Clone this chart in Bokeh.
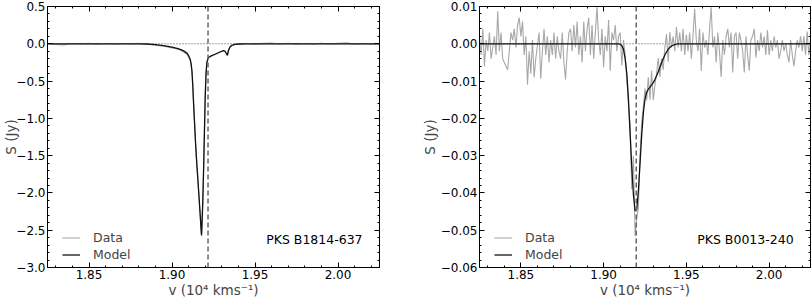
from bokeh.plotting import figure
from bokeh.models import (LinearAxis, SingleIntervalTicker, CustomJSTickFormatter,
                          Span, Label, Legend, LegendItem, Range1d)
from bokeh.layouts import row
from bokeh.embed import file_html
from bokeh.resources import INLINE

# ---------------- data: PKS B1814-637 (left) ----------------
left_v = [1.825, 1.830, 1.835, 1.840, 1.845, 1.850, 1.855, 1.860, 1.865, 1.870, 1.875, 1.880,
          1.885, 1.890, 1.895, 1.900, 1.903, 1.905, 1.907, 1.909, 1.910, 1.911,
          1.9115, 1.912, 1.9125, 1.913, 1.9135, 1.914, 1.9145, 1.915, 1.9155, 1.916, 1.9165, 1.917, 1.9175,
          1.9178, 1.918, 1.9185, 1.919, 1.9195, 1.920, 1.9205, 1.921, 1.9215, 1.922,
          1.923, 1.924, 1.925, 1.926, 1.927, 1.928, 1.929, 1.930, 1.931, 1.932,
          1.9325, 1.9334, 1.934, 1.935, 1.936, 1.937, 1.938, 1.940, 1.945,
          1.950, 1.955, 1.960, 1.965, 1.970, 1.975, 1.980, 1.985, 1.990, 1.995, 2.000, 2.005,
          2.010, 2.015, 2.020, 2.025]
left_model = [0, 0, 0, 0, 0, 0, 0, 0, 0, 0, 0, 0,
              -0.003, -0.01, -0.025, -0.045, -0.06, -0.075, -0.095, -0.125, -0.16, -0.21,
              -0.27, -0.36, -0.55, -0.80, -1.02, -1.25, -1.45, -1.63, -1.79, -1.96, -2.13, -2.30, -2.48,
              -2.57, -2.46, -2.15, -1.72, -1.22, -0.72, -0.40, -0.25, -0.21, -0.185,
              -0.17, -0.16, -0.15, -0.14, -0.13, -0.12, -0.11, -0.10, -0.092, -0.10,
              -0.12, -0.155, -0.09, -0.04, -0.022, -0.013, -0.008, -0.003, 0,
              0, 0, 0, 0, 0, 0, 0, 0, 0, 0, 0, 0,
              0, 0, 0, 0]
left_data = [0.005, -0.008, -0.015, 0.004, -0.003, 0.006, -0.005, 0.003, -0.006, 0.004, -0.002, 0.005,
             -0.006, -0.018, -0.032, -0.055, -0.07, -0.088, -0.11, -0.14, -0.175, -0.225,
             -0.28, -0.37, -0.56, -0.80, -1.03, -1.25, -1.46, -1.63, -1.80, -1.96, -2.14, -2.31, -2.49,
             -2.56, -2.45, -2.14, -1.70, -1.20, -0.70, -0.39, -0.26, -0.22, -0.19,
             -0.175, -0.16, -0.148, -0.14, -0.128, -0.12, -0.108, -0.10, -0.09, -0.105,
             -0.125, -0.15, -0.085, -0.045, -0.02, -0.016, -0.006, -0.004, 0.003,
             -0.004, 0.006, 0.01, -0.003, 0.008, -0.005, 0.004, -0.006, 0.007, -0.002, 0.005, 0.012,
             -0.004, 0.003, -0.006, 0.002]
left_vsys = 1.9217
left_name = "PKS B1814-637"

# ---------------- data: PKS B0013-240 (right) ----------------
right_v = [1.825, 1.826, 1.827, 1.828, 1.829, 1.830, 1.831, 1.832, 1.833, 1.834,
           1.835, 1.836, 1.837, 1.838, 1.839, 1.840, 1.841, 1.842, 1.843, 1.844,
           1.845, 1.846, 1.847, 1.848, 1.849, 1.850, 1.851, 1.852, 1.853, 1.854,
           1.855, 1.856, 1.857, 1.858, 1.859, 1.860, 1.861, 1.862, 1.863, 1.864,
           1.865, 1.866, 1.867, 1.868, 1.869, 1.870, 1.871, 1.872, 1.873, 1.874,
           1.875, 1.876, 1.877, 1.878, 1.879, 1.880, 1.881, 1.882, 1.883, 1.884,
           1.885, 1.886, 1.887, 1.888, 1.889, 1.890, 1.891, 1.892, 1.893, 1.894,
           1.895, 1.896, 1.897, 1.898, 1.899, 1.900, 1.901, 1.902, 1.903, 1.904,
           1.905, 1.906, 1.907, 1.908, 1.909, 1.910, 1.911, 1.912, 1.913, 1.914,
           1.915, 1.916, 1.917, 1.918, 1.919, 1.920, 1.921, 1.922, 1.923, 1.924,
           1.925, 1.926, 1.927, 1.928, 1.929, 1.930, 1.931, 1.932, 1.933, 1.934,
           1.935, 1.936, 1.937, 1.938, 1.939, 1.940, 1.941, 1.942, 1.943, 1.944,
           1.945, 1.946, 1.947, 1.948, 1.949, 1.950, 1.951, 1.952, 1.953, 1.954,
           1.955, 1.956, 1.957, 1.958, 1.959, 1.960, 1.961, 1.962, 1.963, 1.964,
           1.965, 1.966, 1.967, 1.968, 1.969, 1.970, 1.971, 1.972, 1.973, 1.974,
           1.975, 1.976, 1.977, 1.978, 1.979, 1.980, 1.981, 1.982, 1.983, 1.984,
           1.985, 1.986, 1.987, 1.988, 1.989, 1.990, 1.991, 1.992, 1.993, 1.994,
           1.995, 1.996, 1.997, 1.998, 1.999, 2.000, 2.001, 2.002, 2.003, 2.004,
           2.005, 2.006, 2.007, 2.008, 2.009, 2.010, 2.011, 2.012, 2.013, 2.014,
           2.015, 2.016, 2.017, 2.018, 2.019, 2.020, 2.021, 2.022, 2.023, 2.024,
           2.025]
right_data = [0.002, -0.003, 0.004, -0.006, 0.001, -0.002, 0.003, -0.004, -0.001, 0.002,
              -0.003, 0.0088, -0.002, 0.003, -0.004, -0.005, -0.006, -0.007, -0.002, 0.003,
              0.001, 0.004, -0.001, 0.005, 0.007, 0.002, 0.006, -0.003, 0.002, -0.011,
              -0.002, -0.008, 0.001, -0.009, -0.004, -0.0005, 0.003, -0.0094, -0.002, 0.004,
              -0.003, 0.002, -0.005, 0.001, -0.003, 0.003, -0.004, 0.002, -0.002, -0.004,
              0.003, -0.005, -0.0096, -0.002, 0.003, 0.004, -0.002, 0.005, -0.001, 0.006,
              -0.003, 0.002, -0.005, 0.006, -0.002, 0.004, 0.007, -0.003, 0.005, -0.004,
              0.003, 0.0099, 0.001, -0.003, 0.004, -0.0063, 0.002, -0.002, 0.0064, -0.0072,
              0.003, 0.001, 0.005, -0.002, 0.002, 0.003, -0.0058, 0.001, -0.003, -0.009,
              -0.016, -0.022, -0.039, -0.030, -0.0516, -0.047, -0.044, -0.030, -0.021, -0.017,
              -0.012, -0.0152, -0.009, -0.015, -0.0072, -0.0151, -0.011, -0.008, -0.0038, -0.0089,
              -0.004, -0.007, -0.001, 0.0026, -0.0049, 0.0031, -0.001, 0.002, -0.002, 0.0045,
              -0.001, 0.003, -0.002, 0.004, -0.003, 0.0024, -0.002, 0.003, -0.004, 0.002,
              0.0094, 0.001, -0.002, 0.004, -0.0073, 0.003, -0.001, 0.001, -0.003, 0.004,
              0.0098, -0.001, 0.002, -0.005, 0.003, -0.002, -0.0089, 0.001, -0.003, 0.002,
              0.004, -0.001, 0.003, -0.0077, 0.002, 0.003, -0.004, 0.003, 0.001, -0.002,
              -0.0077, 0.002, -0.003, -0.0072, 0.001, 0.002, 0.004, -0.0037, 0.001, -0.002,
              0.003, -0.001, 0.002, -0.003, 0.0037, -0.003, 0.001, -0.002, 0.002, -0.001,
              0.001, -0.004, -0.002, 0.001, -0.002, 0.000, -0.003, -0.005, 0.001, -0.003,
              -0.006, -0.002, 0.001, -0.001, 0.002, -0.002, 0.002, -0.003, 0.0033, -0.003,
              0.001]
right_model_v = [1.825, 1.909, 1.910, 1.911, 1.912, 1.913, 1.914, 1.915, 1.916, 1.917, 1.918,
                 1.919, 1.920, 1.921, 1.922, 1.923, 1.924, 1.925, 1.926, 1.927, 1.928,
                 1.929, 1.930, 1.931, 1.932, 1.933, 1.934, 1.935, 1.936, 1.937, 1.938,
                 1.939, 1.940, 1.941, 1.942, 1.943, 1.944, 1.945, 2.025]
right_model = [0, 0, -0.0001, -0.0005, -0.0015, -0.004, -0.008, -0.015, -0.024, -0.033, -0.0405,
               -0.0448, -0.0445, -0.0395, -0.032, -0.0245, -0.0185, -0.0148, -0.013, -0.0122, -0.0116,
               -0.011, -0.0104, -0.0096, -0.0086, -0.0075, -0.0063, -0.0051, -0.004, -0.003, -0.0022,
               -0.0015, -0.001, -0.0006, -0.0004, -0.0002, -0.0001, 0, 0]
right_vsys = 1.9197
right_name = "PKS B0013-240"

x_ticks_interval = 0.05
assert len(left_v) == len(left_model) == len(left_data)
assert len(right_v) == len(right_data)
assert len(right_model_v) == len(right_model)

FONT = "DejaVu Sans"
DATA_COLOR = "#a8a8a8"
MODEL_COLOR = "#111111"


def fmt(decimals):
    return CustomJSTickFormatter(code="""
        const a = Math.abs(tick) < 1e-9 ? 0 : tick;
        const s = Math.abs(a).toFixed(%d);
        return (a < 0 ? "\u2212" : "") + s;
    """ % decimals)


def style_axis(ax, show_labels, label_standoff=0):
    ax.major_tick_in = 5
    ax.major_tick_out = 0
    ax.minor_tick_in = 2
    ax.minor_tick_out = 0
    ax.axis_line_color = "black"
    ax.major_tick_line_color = "black"
    ax.minor_tick_line_color = "black"
    ax.major_label_text_font = FONT
    ax.major_label_text_color = "black"
    ax.major_label_text_font_size = "12px"
    if show_labels:
        ax.major_label_standoff = 2
    else:
        ax.major_label_standoff = 0
        ax.formatter = CustomJSTickFormatter(code="return '';")
    ax.axis_label_text_font = FONT
    ax.axis_label_text_font_size = "13.5px"
    ax.axis_label_text_font_style = "normal"
    ax.axis_label_standoff = label_standoff


def panel(vx, vdata, mx, mdata, ymin, ymax, yint, ydec, vsys, name, label_y,
          width, border_left, border_right, ylabel_standoff):
    p = figure(width=width, height=300, x_range=Range1d(1.825, 2.025),
               y_range=Range1d(ymin, ymax), output_backend="svg",
               toolbar_location=None, min_border_left=border_left,
               min_border_right=border_right, min_border_top=6, min_border_bottom=30)
    p.grid.visible = False
    p.outline_line_color = "black"
    p.outline_line_width = 1
    p.background_fill_color = "white"

    xt = SingleIntervalTicker(interval=x_ticks_interval, num_minor_ticks=5)
    yt = SingleIntervalTicker(interval=yint, num_minor_ticks=5)
    p.xaxis.ticker = xt
    p.yaxis.ticker = yt
    p.xaxis.formatter = fmt(2)
    p.yaxis.formatter = fmt(ydec)
    for ax in p.xaxis:
        style_axis(ax, True, 0)
    for ax in p.yaxis:
        style_axis(ax, True, ylabel_standoff)
    p.xaxis.axis_label = "v (10\u2074 kms\u207b\u00b9)"
    p.yaxis.axis_label = "S (Jy)"

    top = LinearAxis(ticker=xt)
    style_axis(top, False)
    p.add_layout(top, "above")
    right = LinearAxis(ticker=yt)
    style_axis(right, False)
    p.add_layout(right, "right")

    p.add_layout(Span(location=0, dimension="width", line_color="#444444",
                      line_dash="1 2", line_width=1, level="underlay"))

    r_data = p.line(vx, vdata, line_color=DATA_COLOR, line_width=1.1)
    r_model = p.line(mx, mdata, line_color=MODEL_COLOR, line_width=1.3)

    p.add_layout(Span(location=vsys, dimension="height", line_color="#666666",
                      line_dash="5 3", line_width=1.5))

    legend = Legend(items=[LegendItem(label="Data", renderers=[r_data]),
                           LegendItem(label="Model", renderers=[r_model])],
                    location=(10, 0), border_line_alpha=0,
                    background_fill_alpha=0, label_text_font=FONT,
                    label_text_font_size="12.5px", glyph_width=18, glyph_height=15,
                    label_standoff=13, spacing=2, padding=5, margin=0,
                    label_height=15)
    p.add_layout(legend)

    p.add_layout(Label(x=2.0148, y=label_y, text=name, text_align="right",
                       text_baseline="middle", text_font=FONT,
                       text_font_size="12.5px", text_color="black"))
    return p


p1 = panel(left_v, left_data, left_v, left_model, -3.0, 0.5, 0.5, 1, left_vsys,
           left_name, -2.62, 400, 47, 21, -6)
p2 = panel(right_v, right_data, right_model_v, right_model, -0.06, 0.01, 0.01, 2,
           right_vsys, right_name, -0.0526, 411, 79, 1, 0)

layout = row(p1, p2)
open("out.html", "w").write(file_html(layout, INLINE))
